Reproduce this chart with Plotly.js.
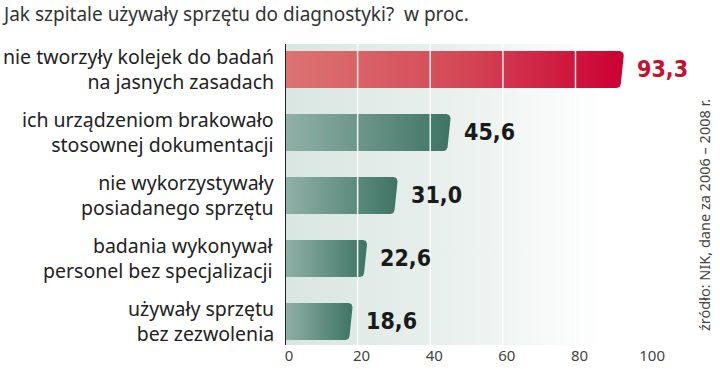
<!DOCTYPE html>
<html>
<head>
<meta charset="utf-8">
<script src="https://cdn.plot.ly/plotly-3.0.1.min.js"></script>
<style>html,body{margin:0;padding:0;background:#fff;}#chart{width:720px;height:369px;}</style>
</head>
<body>
<div id="chart"></div>
<script>
// ---- data ----
const categories = [
  "nie tworzyły kolejek do badań<br>na jasnych zasadach",
  "ich urządzeniom brakowało<br>stosownej dokumentacji",
  "nie wykorzystywały<br>posiadanego sprzętu",
  "badania wykonywał<br>personel bez specjalizacji",
  "używały sprzętu<br>bez zezwolenia"
];
const values = [93.3, 45.6, 31.0, 22.6, 18.6];
const valueLabels = ["93,3", "45,6", "31,0", "22,6", "18,6"];
const xTicks = [0, 20, 40, 60, 80, 100];
const titleText = "Jak szpitale używały sprzętu do diagnostyki?&nbsp;&nbsp;w proc.";
const sourceText = "źródło: NIK, dane za 2006 – 2008 r.";

// ---- style ----
const W = 720, H = 369, mL = 285, mR = 61, mT = 44, mB = 24;
const plotW = W - mL - mR, plotH = H - mT - mB;
const xRange = [0, 103];
const yRange = [4.373, -0.405];
const halfH = 0.295;
const pxPerX = plotW / (xRange[1] - xRange[0]), pxPerY = plotH / (yRange[0] - yRange[1]);
const slantPx = 3, cornerPx = 4;
const labelFont = '"Noto Sans", sans-serif';

const traces = [];
// background gradient
traces.push({
  type: 'scatter', mode: 'none', hoverinfo: 'skip', showlegend: false,
  x: [xRange[0], xRange[1], xRange[1], xRange[0], xRange[0]],
  y: [yRange[1], yRange[1], yRange[0], yRange[0], yRange[1]],
  fill: 'toself',
  fillgradient: {type: 'horizontal', colorscale: [[0, '#d9e6e1'], [0.45, '#e9f0ed'], [0.85, '#ffffff'], [1, '#ffffff']]}
});

values.forEach((v, i) => {
  const t = i - halfH, b = i + halfH;
  const rx = cornerPx / pxPerX, ry = cornerPx / pxPerY, s = slantPx / pxPerX;
  const xs = [0, v - rx, v - rx * 0.3, v, v - s, v - s - rx * 0.3, v - s - rx, 0, 0];
  const ys = [t, t, t + ry * 0.3, t + ry, b - ry, b - ry * 0.3, b, b, t];
  const red = i === 0;
  traces.push({
    type: 'scatter', mode: 'none', hoverinfo: 'skip', showlegend: false,
    x: xs, y: ys, fill: 'toself',
    fillgradient: {type: 'horizontal', colorscale: red
      ? [[0, '#dc7373'], [0.5, '#d44b57'], [1, '#cc0033']]
      : [[0, '#90b1a7'], [1, '#3e7464']]}
  });
});

const annotations = [];
// value labels
values.forEach((v, i) => annotations.push({
  x: v, y: i, xref: 'x', yref: 'y', text: valueLabels[i],
  showarrow: false, xanchor: 'left', yanchor: 'middle', xshift: 11, yshift: 1,
  font: {family: '"DejaVu Sans Condensed", "Liberation Sans Narrow", sans-serif', size: 23, weight: 'bold',
         color: i === 0 ? '#c8102e' : '#1a1a1a'}
}));
// category labels
categories.forEach((c, i) => annotations.push({
  x: 0, y: i, xref: 'paper', yref: 'y', text: c, showarrow: false,
  xanchor: 'right', yanchor: 'middle', align: 'right', xshift: -9, yshift: 1,
  font: {family: labelFont, size: 19.5, color: '#222'}
}));
// title
annotations.push({
  x: -mL / plotW, y: 1 + (mT - 14) / plotH, xref: 'paper', yref: 'paper', text: titleText, showarrow: false,
  xanchor: 'left', yanchor: 'middle', font: {family: labelFont, size: 19, color: '#333'}
});
// source
annotations.push({
  x: (704 - mL) / plotW, y: 1 - (215 - mT) / plotH, xref: 'paper', yref: 'paper',
  text: sourceText, showarrow: false, textangle: -90, xanchor: 'center', yanchor: 'middle',
  font: {family: labelFont, size: 14.5, color: '#444'}
});

const shapes = xTicks.filter(t => t > 0).map(t => ({
  type: 'line', xref: 'x', yref: 'paper', x0: t, x1: t, y0: 0, y1: 1,
  line: {color: 'rgba(255,255,255,0.9)', width: 1.5}, layer: 'above'
}));
shapes.push({type: 'line', xref: 'x', yref: 'paper', x0: 0, x1: 0, y0: 0, y1: 1,
  line: {color: '#222', width: 2}, layer: 'above'});

const layout = {
  width: W, height: H,
  margin: {l: mL, r: mR, t: mT, b: mB, pad: 0},
  paper_bgcolor: '#fff', plot_bgcolor: 'rgba(0,0,0,0)',
  showlegend: false,
  xaxis: {range: xRange, tickvals: xTicks, ticktext: xTicks.map(String), showgrid: false, zeroline: false,
          showline: false, ticks: '', ticklabelshift: 4,
          tickfont: {family: labelFont, size: 15, color: '#444'}, fixedrange: true},
  yaxis: {range: yRange, showticklabels: false, showgrid: false,
          zeroline: false, showline: false, ticks: '', fixedrange: true},
  annotations: annotations,
  shapes: shapes
};
Plotly.newPlot('chart', traces, layout, {displayModeBar: false, staticPlot: true});
</script>
</body>
</html>
